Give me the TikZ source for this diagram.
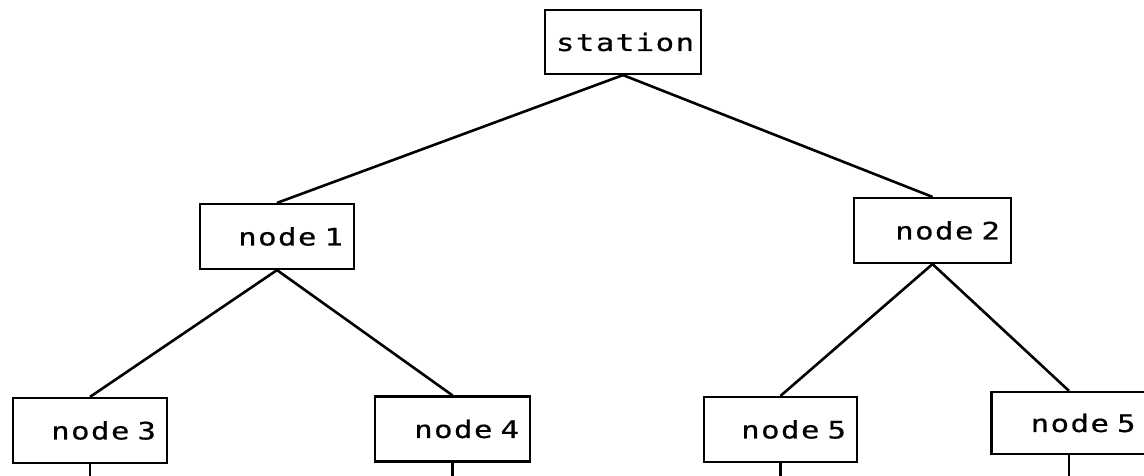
\documentclass[tikz,border=0pt]{standalone}
\usepackage{fontspec}
\newfontfamily\dotfont[FakeStretch=1.28, FakeBold=0.6, LetterSpace=6]{DejaVu Sans Mono}
\newcommand\dotsize{\dotfont\fontsize{24}{28}\selectfont\spaceskip 22pt\relax}

\begin{document}
\begin{tikzpicture}[
        x=1pt, y=-1pt, line width=2.6pt,
        blk/.style={draw, line width=2.2pt, minimum height=65pt,
          text width=#1-22pt, align=right, inner xsep=11pt,
          font=\dotsize},
        blk/.default=155pt]

  \useasboundingbox (0,0) rectangle (1144,476);
  \clip (0,0) rectangle (1144,476);

  % boxes ---------------------------------------------------
  \node[blk=156pt, minimum height=64pt] (station) at (623,42) {station};
  \node[blk=154pt] (n1) at (277,236.5) {node 1};
  \node[blk=157pt] (n2) at (932.5,230.5) {node 2};
  \node[blk=154pt] (n3) at (90,430.5) {node 3};
  \node[blk]       (n4) at (452.5,429) {node 4};
  \node[blk=153pt] (n5) at (780.5,429.5) {node 5};
  \node[blk, minimum height=62pt] (n6) at (1069,423) {node 5};
  \coordinate (base) at (0,480);

  % links ---------------------------------------------------
  \draw (station.south) -- (n1.north);
  \draw (station.south) -- (n2.north);
  \draw (n1.south) -- (n3.north);
  \draw (n1.south) -- (n4.north);
  \draw (n2.south) -- (n5.north);
  \draw (n2.south) -- (n6.north);

  % stubs to the next level ---------------------------------
  \foreach \n in {n3,n4,n5,n6}
    \draw (\n.south) -- (\n.south |- base);

\end{tikzpicture}
\end{document}
